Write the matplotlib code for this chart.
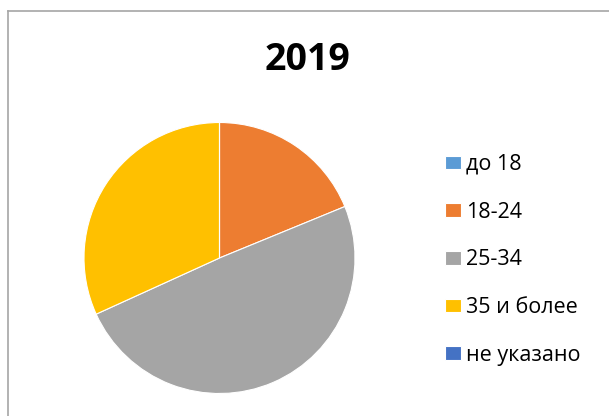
import matplotlib.pyplot as plt
from matplotlib.lines import Line2D

plt.rcParams['font.family'] = ['Open Sans', 'DejaVu Sans']

# data
labels = ['до 18', '18-24', '25-34', '35 и более', 'не указано']
shares = [0, 18.8, 49.4, 31.8, 0]
colors = ['#5B9BD5', '#ED7D31', '#A5A5A5', '#FFC000', '#4472C4']
title = '2019'

W, H = 609, 416
fig = plt.figure(figsize=(W / 100, H / 100), dpi=100)

# chart frame: only top and left edges are visible in the original
fx, fy = 7.5 / W, 1 - 11 / H
fig.lines.append(Line2D([fx, 1.1], [fy, fy], transform=fig.transFigure, color='#a6a6a6', lw=1.2))
fig.lines.append(Line2D([fx, fx], [-0.1, fy], transform=fig.transFigure, color='#a6a6a6', lw=1.2))

cx, cy, r = 219.5, 258, 135.5
ax = fig.add_axes([(cx - r) / W, (H - cy - r) / H, 2 * r / W, 2 * r / H])
wedges, _ = ax.pie(shares, colors=colors, startangle=90, counterclock=False,
                   wedgeprops=dict(edgecolor='white', linewidth=0.8))
ax.set_xlim(-1, 1)
ax.set_ylim(-1, 1)
ax.set_aspect('equal')

fig.text(307.5 / W, 1 - 70 / H, title, ha='center', va='baseline',
         fontsize=27, fontweight='bold')

fig.legend(wedges, labels, loc='upper left', bbox_to_anchor=(445 / W, 1 - 154 / H),
           frameon=False, fontsize=15.5, handlelength=0.72, handleheight=0.6,
           handletextpad=0.25, labelspacing=1.24, borderpad=0, borderaxespad=0)

plt.savefig('out.png', dpi=100)
